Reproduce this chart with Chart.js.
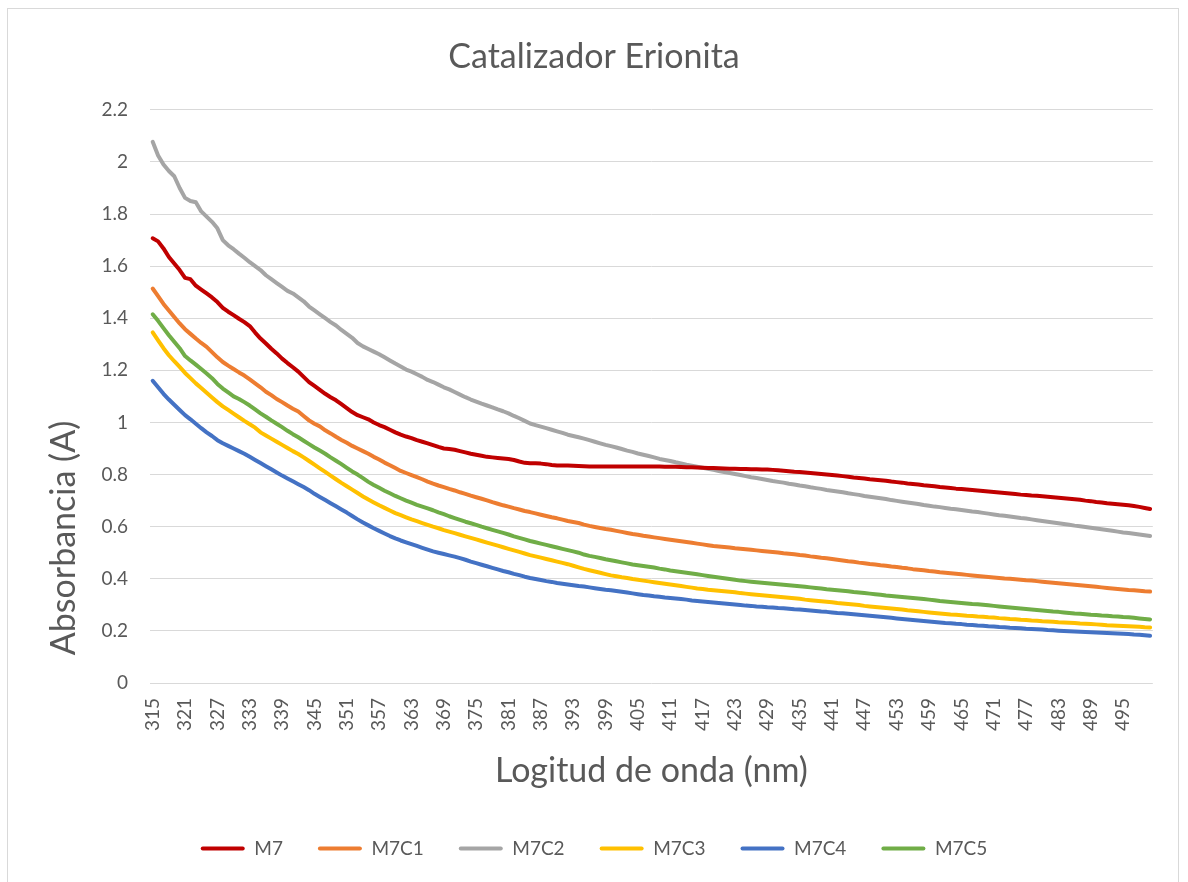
<!DOCTYPE html>
<html>
<head>
<meta charset="utf-8">
<script src="https://cdn.jsdelivr.net/npm/chart.js@4.4.1/dist/chart.umd.min.js"></script>
<style>
  html, body { margin: 0; padding: 0; background: #ffffff; }
  #wrap { position: relative; width: 1188px; height: 882px; overflow: hidden; }
  #frame { position: absolute; left: 7px; top: 8px; width: 1170px; height: 900px; border: 1px solid #d9d9d9; pointer-events: none; }
  canvas { position: absolute; left: 0; top: 0; }
</style>
</head>
<body>
<div id="wrap">
  <canvas id="c" width="1188" height="882"></canvas>
  <div id="frame"></div>
</div>
<script>
// Wavelengths 315..500 nm (one category per nm)
const wavelengths = Array.from({length: 186}, (_, i) => 315 + i);

const seriesNames = ['M7', 'M7C1', 'M7C2', 'M7C3', 'M7C4', 'M7C5'];
const seriesColors = ['#c00000', '#ed7d31', '#a5a5a5', '#ffc000', '#4472c4', '#70ad47'];

const M7 = [
1.707,1.695,1.668,1.635,1.610,1.585,1.555,1.550,1.525,1.510,
1.495,1.480,1.462,1.440,1.425,1.412,1.398,1.385,1.370,1.345,
1.322,1.303,1.283,1.265,1.245,1.228,1.212,1.195,1.175,1.155,
1.140,1.125,1.110,1.097,1.085,1.070,1.055,1.040,1.028,1.020,
1.012,1.000,0.990,0.982,0.972,0.962,0.953,0.946,0.940,0.932,
0.926,0.920,0.913,0.906,0.900,0.898,0.895,0.890,0.885,0.880,
0.876,0.872,0.868,0.866,0.864,0.862,0.860,0.856,0.850,0.845,
0.843,0.843,0.842,0.840,0.837,0.835,0.835,0.835,0.834,0.833,
0.832,0.831,0.831,0.831,0.831,0.831,0.831,0.831,0.831,0.831,
0.831,0.831,0.831,0.831,0.831,0.830,0.830,0.830,0.829,0.828,
0.828,0.827,0.826,0.825,0.825,0.824,0.823,0.822,0.822,0.821,
0.821,0.820,0.820,0.819,0.819,0.818,0.817,0.815,0.813,0.811,
0.810,0.808,0.806,0.804,0.802,0.800,0.798,0.796,0.794,0.792,
0.789,0.787,0.785,0.782,0.780,0.778,0.776,0.773,0.771,0.769,
0.766,0.764,0.762,0.759,0.757,0.755,0.752,0.750,0.748,0.746,
0.745,0.743,0.741,0.739,0.737,0.735,0.733,0.731,0.729,0.727,
0.725,0.723,0.722,0.720,0.719,0.717,0.715,0.713,0.711,0.709,
0.707,0.705,0.703,0.700,0.698,0.695,0.693,0.690,0.688,0.686,
0.684,0.682,0.679,0.676,0.672,0.668];

const M7C1 = [
1.514,1.485,1.455,1.430,1.405,1.380,1.358,1.340,1.322,1.305,
1.290,1.270,1.250,1.232,1.218,1.205,1.192,1.180,1.165,1.150,
1.135,1.118,1.105,1.090,1.078,1.065,1.053,1.042,1.025,1.008,
0.995,0.985,0.970,0.958,0.945,0.933,0.922,0.910,0.900,0.890,
0.880,0.868,0.858,0.846,0.836,0.825,0.814,0.806,0.798,0.790,
0.782,0.773,0.765,0.758,0.752,0.745,0.739,0.732,0.726,0.719,
0.713,0.707,0.701,0.694,0.688,0.682,0.677,0.671,0.666,0.660,
0.656,0.651,0.646,0.641,0.636,0.632,0.627,0.622,0.618,0.614,
0.608,0.603,0.599,0.595,0.591,0.588,0.584,0.580,0.576,0.572,
0.569,0.565,0.562,0.559,0.556,0.553,0.550,0.547,0.544,0.541,
0.538,0.535,0.532,0.529,0.526,0.524,0.522,0.520,0.517,0.515,
0.513,0.511,0.509,0.507,0.505,0.503,0.501,0.498,0.496,0.494,
0.491,0.489,0.486,0.484,0.481,0.479,0.476,0.473,0.470,0.467,
0.465,0.462,0.460,0.457,0.455,0.452,0.450,0.447,0.445,0.442,
0.440,0.437,0.435,0.433,0.430,0.428,0.425,0.423,0.421,0.419,
0.417,0.415,0.413,0.411,0.409,0.407,0.405,0.403,0.401,0.400,
0.398,0.396,0.394,0.393,0.391,0.389,0.387,0.385,0.383,0.381,
0.379,0.377,0.375,0.373,0.371,0.369,0.367,0.365,0.363,0.361,
0.359,0.357,0.356,0.354,0.352,0.351];

const M7C2 = [
2.077,2.025,1.990,1.965,1.945,1.900,1.862,1.850,1.845,1.810,
1.790,1.770,1.745,1.700,1.680,1.665,1.648,1.632,1.615,1.600,
1.585,1.565,1.550,1.535,1.520,1.505,1.495,1.480,1.465,1.445,
1.430,1.415,1.400,1.385,1.372,1.355,1.340,1.325,1.305,1.292,
1.282,1.272,1.262,1.250,1.238,1.226,1.215,1.203,1.195,1.185,
1.175,1.163,1.155,1.145,1.135,1.127,1.117,1.107,1.097,1.088,
1.080,1.072,1.065,1.058,1.050,1.043,1.035,1.025,1.016,1.006,
0.996,0.990,0.984,0.978,0.972,0.966,0.960,0.953,0.948,0.943,
0.938,0.932,0.926,0.920,0.914,0.909,0.904,0.898,0.892,0.887,
0.881,0.876,0.871,0.866,0.860,0.856,0.852,0.847,0.843,0.838,
0.834,0.830,0.826,0.822,0.818,0.814,0.810,0.806,0.802,0.798,
0.794,0.790,0.787,0.783,0.779,0.775,0.772,0.769,0.765,0.762,
0.758,0.755,0.751,0.748,0.745,0.741,0.738,0.735,0.732,0.728,
0.725,0.722,0.718,0.715,0.712,0.709,0.706,0.702,0.699,0.696,
0.693,0.690,0.687,0.683,0.680,0.677,0.675,0.672,0.669,0.667,
0.664,0.661,0.658,0.656,0.653,0.650,0.647,0.644,0.642,0.639,
0.636,0.633,0.631,0.628,0.625,0.622,0.619,0.616,0.613,0.610,
0.607,0.604,0.602,0.599,0.596,0.593,0.590,0.587,0.584,0.581,
0.578,0.576,0.573,0.570,0.567,0.564];

const M7C3 = [
1.346,1.315,1.285,1.258,1.235,1.213,1.190,1.170,1.150,1.132,
1.114,1.096,1.078,1.062,1.048,1.034,1.020,1.006,0.993,0.980,
0.962,0.950,0.938,0.926,0.914,0.902,0.890,0.879,0.866,0.852,
0.838,0.824,0.810,0.796,0.782,0.768,0.755,0.742,0.729,0.716,
0.704,0.693,0.682,0.672,0.662,0.652,0.644,0.636,0.628,0.621,
0.614,0.607,0.600,0.594,0.587,0.581,0.575,0.569,0.563,0.557,
0.551,0.545,0.539,0.533,0.527,0.521,0.515,0.509,0.503,0.497,
0.491,0.486,0.481,0.476,0.471,0.466,0.461,0.456,0.450,0.444,
0.438,0.433,0.428,0.423,0.418,0.413,0.410,0.406,0.403,0.399,
0.396,0.393,0.390,0.387,0.384,0.381,0.378,0.375,0.372,0.369,
0.366,0.363,0.361,0.358,0.356,0.354,0.352,0.350,0.348,0.345,
0.343,0.341,0.339,0.337,0.335,0.333,0.331,0.329,0.327,0.325,
0.323,0.320,0.318,0.316,0.314,0.312,0.310,0.307,0.305,0.303,
0.301,0.299,0.296,0.294,0.292,0.290,0.288,0.286,0.284,0.282,
0.279,0.277,0.275,0.273,0.271,0.269,0.267,0.265,0.263,0.262,
0.260,0.258,0.257,0.255,0.254,0.252,0.251,0.249,0.248,0.246,
0.245,0.243,0.242,0.240,0.239,0.237,0.236,0.235,0.233,0.232,
0.231,0.230,0.228,0.227,0.226,0.225,0.224,0.222,0.221,0.220,
0.219,0.218,0.217,0.216,0.214,0.213];

const M7C4 = [
1.160,1.135,1.110,1.088,1.068,1.048,1.028,1.012,0.995,0.978,
0.962,0.948,0.932,0.920,0.910,0.900,0.890,0.880,0.868,0.856,
0.844,0.832,0.820,0.808,0.796,0.785,0.774,0.763,0.752,0.740,
0.726,0.714,0.702,0.690,0.678,0.666,0.654,0.641,0.628,0.616,
0.605,0.594,0.584,0.574,0.564,0.555,0.547,0.540,0.533,0.526,
0.519,0.512,0.505,0.500,0.495,0.490,0.485,0.479,0.473,0.466,
0.460,0.454,0.448,0.442,0.436,0.430,0.425,0.419,0.414,0.408,
0.403,0.399,0.395,0.391,0.388,0.384,0.381,0.378,0.375,0.372,
0.370,0.367,0.364,0.361,0.358,0.356,0.353,0.350,0.347,0.344,
0.341,0.338,0.336,0.333,0.331,0.328,0.326,0.324,0.322,0.320,
0.317,0.315,0.313,0.311,0.309,0.307,0.305,0.303,0.301,0.299,
0.297,0.296,0.294,0.293,0.291,0.290,0.288,0.287,0.285,0.283,
0.282,0.280,0.278,0.276,0.274,0.273,0.271,0.269,0.268,0.266,
0.264,0.262,0.260,0.258,0.256,0.254,0.252,0.250,0.248,0.246,
0.244,0.242,0.240,0.238,0.236,0.234,0.232,0.230,0.229,0.227,
0.226,0.224,0.223,0.221,0.220,0.218,0.217,0.215,0.214,0.212,
0.211,0.210,0.208,0.207,0.206,0.205,0.203,0.202,0.201,0.200,
0.199,0.198,0.197,0.196,0.195,0.194,0.193,0.192,0.191,0.190,
0.189,0.188,0.186,0.185,0.183,0.181];

const M7C5 = [
1.415,1.390,1.362,1.335,1.310,1.285,1.255,1.238,1.222,1.205,
1.188,1.170,1.148,1.130,1.115,1.100,1.090,1.078,1.065,1.050,
1.035,1.022,1.008,0.995,0.982,0.968,0.955,0.943,0.930,0.917,
0.904,0.892,0.880,0.866,0.853,0.840,0.826,0.812,0.800,0.786,
0.772,0.760,0.749,0.738,0.728,0.718,0.709,0.700,0.692,0.684,
0.677,0.670,0.663,0.655,0.648,0.640,0.633,0.626,0.619,0.613,
0.607,0.600,0.594,0.588,0.582,0.576,0.570,0.563,0.557,0.551,
0.545,0.540,0.535,0.530,0.525,0.520,0.515,0.510,0.505,0.500,
0.493,0.488,0.484,0.480,0.475,0.471,0.467,0.463,0.459,0.455,
0.452,0.449,0.446,0.443,0.439,0.436,0.432,0.429,0.426,0.423,
0.420,0.417,0.414,0.411,0.408,0.405,0.402,0.399,0.396,0.393,
0.391,0.389,0.387,0.385,0.383,0.381,0.379,0.377,0.375,0.373,
0.371,0.369,0.367,0.365,0.363,0.360,0.358,0.356,0.354,0.352,
0.349,0.347,0.345,0.343,0.341,0.339,0.336,0.334,0.332,0.330,
0.328,0.326,0.324,0.322,0.320,0.318,0.315,0.313,0.311,0.309,
0.307,0.305,0.303,0.302,0.300,0.298,0.296,0.294,0.292,0.290,
0.288,0.286,0.284,0.282,0.280,0.278,0.276,0.274,0.273,0.271,
0.269,0.267,0.266,0.264,0.262,0.261,0.259,0.258,0.256,0.255,
0.253,0.252,0.250,0.248,0.246,0.244];

const seriesValues = [M7, M7C1, M7C2, M7C3, M7C4, M7C5];

const yTickMin = 0, yTickMax = 2.2, yTickStep = 0.2;
const xLabelEvery = 6;
const yTitleText = 'Absorbancia (A)';

const TEXT = '#595959';
const GRID = '#d9d9d9';
const FONT = 'Lato, "Open Sans", sans-serif';

Chart.defaults.font.family = FONT;
Chart.defaults.color = TEXT;

const datasets = seriesNames.map((name, i) => ({
  label: name,
  data: seriesValues[i],
  borderColor: seriesColors[i],
  backgroundColor: seriesColors[i],
  borderWidth: 4,
  pointRadius: 0,
  pointHoverRadius: 0,
  tension: 0,
  borderCapStyle: 'round',
  borderJoinStyle: 'round',
  fill: false
}));

// Y-axis title placed lower than centre, as in the original Excel chart
const yTitlePlugin = {
  id: 'yTitle',
  afterDraw(chart) {
    const ctx = chart.ctx;
    const area = chart.chartArea;
    ctx.save();
    ctx.translate(64, area.bottom - 145);
    ctx.rotate(-Math.PI / 2);
    ctx.fillStyle = TEXT;
    ctx.font = '34px ' + FONT;
    ctx.textAlign = 'center';
    ctx.textBaseline = 'middle';
    ctx.fillText(yTitleText, 0, 0);
    ctx.restore();
  }
};

new Chart(document.getElementById('c'), {
  type: 'line',
  data: { labels: wavelengths, datasets },
  plugins: [yTitlePlugin],
  options: {
    responsive: false,
    animation: false,
    devicePixelRatio: 1,
    layout: { padding: { left: 29, right: 29, top: 0, bottom: 14 } },
    plugins: {
      title: {
        display: true,
        text: 'Catalizador Erionita',
        color: TEXT,
        font: { size: 34, weight: 'normal', family: FONT },
        padding: { top: 37, bottom: 32 }
      },
      legend: {
        position: 'bottom',
        labels: {
          color: TEXT,
          font: { size: 19, family: FONT },
          boxWidth: 44,
          boxHeight: 4,
          padding: 35,
          generateLabels(chart) {
            const items = Chart.defaults.plugins.legend.labels.generateLabels(chart);
            items.forEach(it => { it.lineWidth = 0; it.fillStyle = it.strokeStyle; it.borderRadius = 2; });
            return items;
          }
        }
      },
      tooltip: { enabled: false }
    },
    scales: {
      x: {
        type: 'category',
        offset: true,
        grid: { display: false, drawTicks: false },
        border: { display: false },
        ticks: {
          autoSkip: false,
          minRotation: 90,
          maxRotation: 90,
          padding: 15,
          color: TEXT,
          font: { size: 19, family: FONT },
          callback(value, index) {
            return index % xLabelEvery === 0 ? String(wavelengths[index]) : '';
          }
        },
        title: {
          display: true,
          text: 'Logitud de onda (nm)',
          color: TEXT,
          font: { size: 34, family: FONT },
          padding: { top: 0, bottom: 13 }
        },
        afterFit(scale) { scale.height = 121; }
      },
      y: {
        min: yTickMin,
        max: yTickMax,
        grid: { color: GRID, lineWidth: 1, drawTicks: false },
        border: { display: false },
        ticks: {
          stepSize: yTickStep,
          padding: 22,
          color: TEXT,
          font: { size: 19, family: FONT },
          callback(v) { return String(Math.round(v * 10) / 10); }
        },
        title: { display: false },
        afterFit(scale) { scale.width = 121; }
      }
    }
  }
});
</script>
</body>
</html>
